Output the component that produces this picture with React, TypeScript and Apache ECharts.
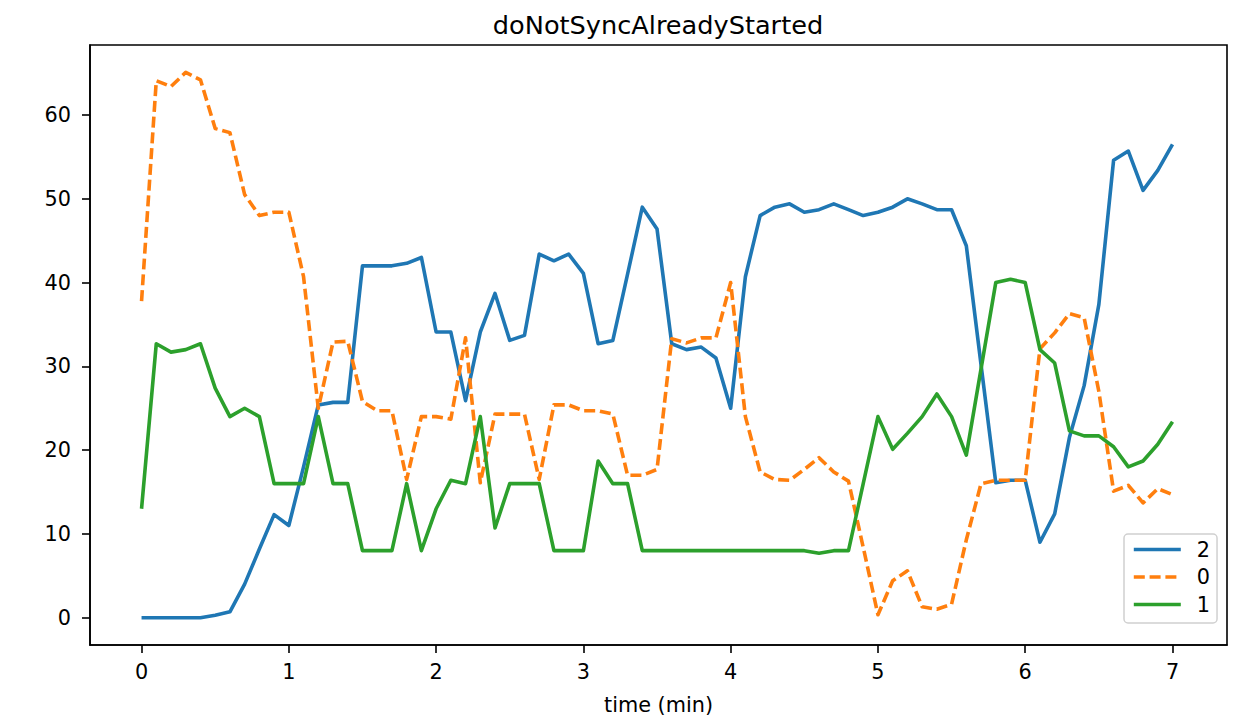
import React, { useEffect, useRef } from "react";
import * as echarts from "echarts";

const titleText = "doNotSyncAlreadyStarted";
const xAxisName = "time (min)";
const xTicks = [0, 1, 2, 3, 4, 5, 6, 7];
const yTicks = [0, 10, 20, 30, 40, 50, 60];

const times = [
  0.0, 0.1, 0.2, 0.3, 0.4, 0.5, 0.6, 0.7, 0.8, 0.9,
  1.0, 1.1, 1.2, 1.3, 1.4, 1.5, 1.6, 1.7, 1.8, 1.9,
  2.0, 2.1, 2.2, 2.3, 2.4, 2.5, 2.6, 2.7, 2.8, 2.9,
  3.0, 3.1, 3.2, 3.3, 3.4, 3.5, 3.6, 3.7, 3.8, 3.9,
  4.0, 4.1, 4.2, 4.3, 4.4, 4.5, 4.6, 4.7, 4.8, 4.9,
  5.0, 5.1, 5.2, 5.3, 5.4, 5.5, 5.6, 5.7, 5.8, 5.9,
  6.0, 6.1, 6.2, 6.3, 6.4, 6.5, 6.6, 6.7, 6.8, 6.9,
  7.0,
];

const series2 = [
  0, 0, 0, 0, 0, 0.3, 0.7, 4.0, 8.2, 12.3,
  11.0, 18.0, 25.4, 25.7, 25.7, 42.0, 42.0, 42.0, 42.3, 43.0,
  34.1, 34.1, 25.9, 34.1, 38.7, 33.1, 33.7, 43.4, 42.6, 43.4,
  41.1, 32.7, 33.1, 41.0, 49.0, 46.4, 32.7, 32.0, 32.3, 31.0,
  25.0, 40.7, 48.0, 49.0, 49.4, 48.4, 48.7, 49.4, 48.7, 48.0,
  48.4, 49.0, 50.0, 49.4, 48.7, 48.7, 44.4, 30.2, 16.1, 16.4,
  16.4, 9.0, 12.4, 21.5, 27.7, 37.4, 54.6, 55.7, 51.0, 53.4,
  56.5,
];

const series0 = [
  37.8, 64.1, 63.4, 65.1, 64.2, 58.4, 57.9, 50.5, 48.0, 48.4,
  48.4, 40.7, 25.0, 32.9, 33.0, 25.8, 24.7, 24.7, 16.5, 24.0,
  24.0, 23.7, 33.4, 16.1, 24.3, 24.3, 24.3, 16.5, 25.4, 25.4,
  24.7, 24.7, 24.3, 17.0, 17.0, 17.7, 33.3, 32.8, 33.4, 33.4,
  40.0, 24.0, 17.4, 16.5, 16.4, 17.7, 19.1, 17.4, 16.3, 8.4,
  0.35, 4.4, 5.6, 1.3, 1.0, 1.6, 9.3, 16.0, 16.4, 16.4,
  16.4, 32.1, 34.0, 36.3, 35.8, 27.0, 15.1, 15.8, 13.7, 15.4,
  14.7,
];

const series1 = [
  13.0, 32.7, 31.7, 32.0, 32.7, 27.4, 24.0, 25.0, 24.0, 16.0,
  16.0, 16.0, 24.0, 16.0, 16.0, 8.0, 8.0, 8.0, 16.0, 8.0,
  13.0, 16.4, 16.0, 24.0, 10.7, 16.0, 16.0, 16.0, 8.0, 8.0,
  8.0, 18.7, 16.0, 16.0, 8.0, 8.0, 8.0, 8.0, 8.0, 8.0,
  8.0, 8.0, 8.0, 8.0, 8.0, 8.0, 7.7, 8.0, 8.0, 16.0,
  24.0, 20.1, 22.0, 24.0, 26.7, 24.0, 19.4, 29.7, 40.0, 40.4,
  40.0, 32.0, 30.4, 22.3, 21.7, 21.7, 20.4, 18.0, 18.7, 20.7,
  23.4,
];

const seriesNames = ["2", "0", "1"];
const seriesColors = ["#1f77b4", "#ff7f0e", "#2ca02c"];

const FONT = "DejaVu Sans";
const LINE_W = 3.6;

export default function App() {
  const ref = useRef<HTMLDivElement>(null);

  useEffect(() => {
    if (!ref.current) return;
    const chart = echarts.init(ref.current, undefined, { renderer: "svg" });
    const pair = (ys: number[]) => times.map((t, i) => [t, ys[i]]);
    const allData = [series2, series0, series1];

    chart.setOption({
      animation: false,
      backgroundColor: "#ffffff",
      textStyle: { fontFamily: FONT },
      title: {
        text: titleText,
        left: 653,
        top: 7,
        textAlign: "center",
        textStyle: { fontFamily: FONT, fontSize: 25.6, fontWeight: "normal", color: "#000" },
      },
      grid: {
        left: 90,
        right: 9,
        top: 45,
        bottom: 76,
        show: true,
        borderColor: "#000",
        borderWidth: 1.6,
        backgroundColor: "transparent",
      },
      legend: {
        orient: "vertical",
        left: 1124,
        top: 534,
        padding: [5, 7, 8, 8],
        itemWidth: 47,
        itemHeight: 25,
        itemGap: 6.5,
        backgroundColor: "rgba(255,255,255,0.8)",
        borderColor: "#d0d0d0",
        borderWidth: 1.5,
        borderRadius: 4,
        data: seriesNames,
        itemStyle: { color: "transparent", borderColor: "transparent", borderWidth: 0, opacity: 0 },
        lineStyle: { width: LINE_W },
        formatter: (name: string) => `{p|${name}}`,
        textStyle: {
          fontFamily: FONT,
          fontSize: 20.8,
          color: "#000",
          rich: { p: { fontFamily: FONT, fontSize: 20.8, color: "#000", padding: [0, 0, 0, 11] } },
        },
      },
      xAxis: {
        type: "value",
        min: -0.35,
        max: 7.37,
        name: xAxisName,
        nameLocation: "middle",
        nameGap: 49,
        nameTextStyle: { fontFamily: FONT, fontSize: 20.8, color: "#000" },
        axisLine: { show: true, onZero: false, lineStyle: { color: "#000", width: 1.6 } },
        axisTick: { show: true, length: 8, customValues: xTicks, lineStyle: { color: "#000", width: 1.6 } },
        axisLabel: {
          customValues: xTicks,
          margin: 16,
          fontFamily: FONT,
          fontSize: 20.8,
          color: "#000",
        },
        splitLine: { show: false },
      },
      yAxis: {
        type: "value",
        min: -3.26,
        max: 68.36,
        axisLine: { show: true, onZero: false, lineStyle: { color: "#000", width: 1.6 } },
        axisTick: { show: true, length: 8, customValues: yTicks, lineStyle: { color: "#000", width: 1.6 } },
        axisLabel: {
          customValues: yTicks,
          margin: 19,
          fontFamily: FONT,
          fontSize: 20.8,
          color: "#000",
        },
        splitLine: { show: false },
      },
      series: seriesNames.map((name, k) => ({
        name,
        type: "line",
        data: pair(allData[k]),
        showSymbol: false,
        symbol: "none",
        color: seriesColors[k],
        lineStyle: {
          color: seriesColors[k],
          width: LINE_W,
          type: k === 1 ? [11, 4.8] : "solid",
          join: "round",
          cap: "butt",
        },
        z: 2 + k,
      })),
    });

    return () => chart.dispose();
  }, []);

  return (
    <div
      ref={ref}
      style={{ position: "fixed", left: 0, top: 0, width: 1236, height: 721, background: "#fff" }}
    />
  );
}
